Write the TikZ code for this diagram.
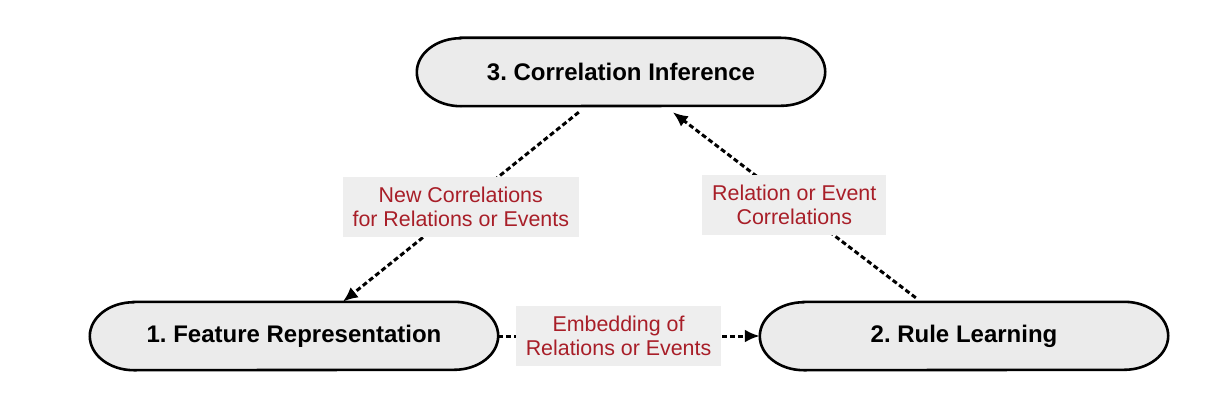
\documentclass[tikz,border=0pt]{standalone}
\usepackage{fontspec}
\setmainfont{Liberation Sans}
\usetikzlibrary{calc,arrows.meta}
\frenchspacing
\definecolor{lblred}{RGB}{168,30,40}
\definecolor{pillfill}{RGB}{235,235,235}
\definecolor{boxfill}{RGB}{238,238,238}
\newcommand\drawpill[1]{%
  \draw[pillline] ($(#1.north west)+(44,0)$) -- ($(#1.north east)+(-44,0)$)
    arc[start angle=90,end angle=-90,x radius=44pt,y radius=34pt]
    -- ($(#1.south west)+(44,0)$)
    arc[start angle=270,end angle=90,x radius=44pt,y radius=34pt] -- cycle;}
\tikzset{
  stage/.style={rectangle,minimum width=408pt,minimum height=68pt,inner sep=0pt,
    font=\fontsize{24}{28}\selectfont\bfseries},
  pillline/.style={draw=black,line width=2.6pt,fill=pillfill},
  conn/.style={draw=black,line width=3pt,dash pattern=on 5pt off 3pt,
    -{Latex[length=15pt,width=13pt]}},
  lbl/.style={fill=boxfill,text=lblred,align=center,inner xsep=10pt,minimum height=60pt,
    font=\fontsize{21.4}{23.5}\selectfont},
}
\begin{document}
\begin{tikzpicture}[x=1pt,y=1pt]
\useasboundingbox (0,0) rectangle (1218,-412);
\node[stage] (n3) at (621,-72) {};
\node[stage] (n1) at (294,-336) {};
\node[stage] (n2) at (964,-336) {};
\drawpill{n3}\drawpill{n1}\drawpill{n2}
\node[stage] at (n3) {3. Correlation Inference};
\node[stage] at (n1) {1. Feature Representation};
\node[stage] at (n2) {2. Rule Learning};
\coordinate (a1) at ($(n3.south west)+(162,-6)$);
\coordinate (b1) at ($(n1.north west)+(253,0)$);
\coordinate (a2) at ($(n2.north west)+(156,4)$);
\coordinate (b2) at ($(n3.south west)+(256,-6)$);
\draw[conn] (a1) -- node[lbl,pos=0.5] {New Correlations\\for Relations or Events} (b1);
\draw[conn] (a2) -- node[lbl,pos=0.5] {Relation or Event\\Correlations} (b2);
\draw[conn] (n1.east) -- node[lbl,pos=0.46] {Embedding of\\Relations or Events} (n2.west);
\end{tikzpicture}
\end{document}
